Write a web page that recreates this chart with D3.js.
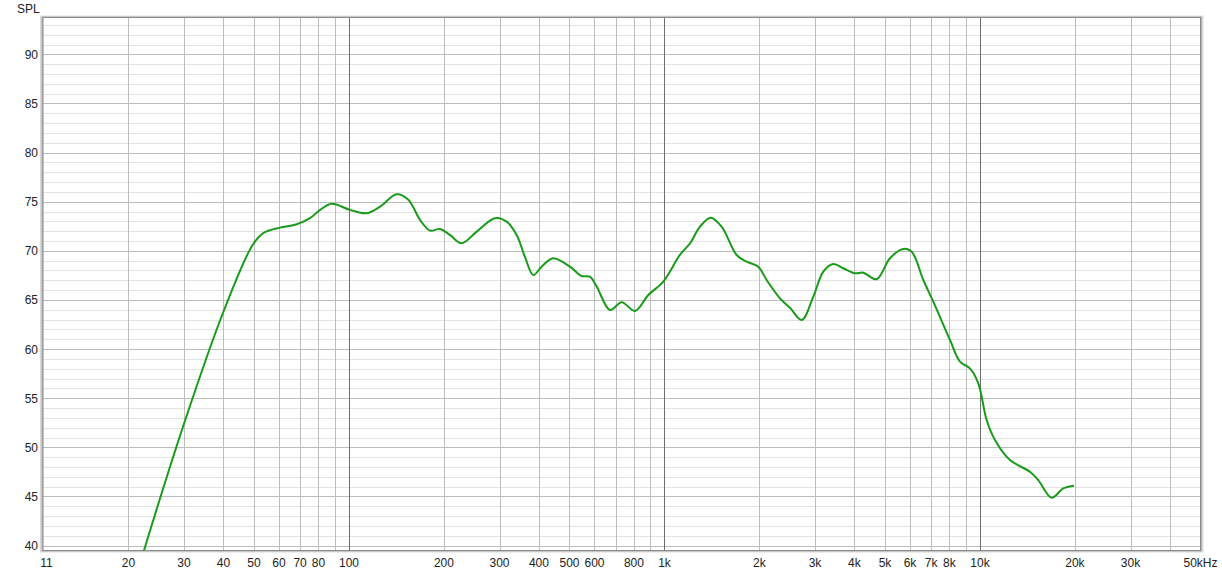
<!DOCTYPE html>
<html lang="en">
<head>
<meta charset="UTF-8">
<title>SPL</title>
<script src="https://cdn.jsdelivr.net/npm/d3@7"></script>
<style>
  body { margin: 0; background: #fff; }
  text { font-family: "Liberation Sans", Arial, sans-serif; font-size: 12px; fill: #222; }
</style>
</head>
<body>
<svg id="chart" width="1222" height="575"></svg>
<script>
// frequency response (Hz, dB SPL)
var freqs = [20.5, 22.4, 30, 40, 49.5, 53.5, 60.4, 68.3, 75.2, 81, 88.2, 100.7, 113.8, 125.4, 141.6, 154.2, 168, 180.7,
  194.3, 208.9, 227.5, 254, 290.2, 316, 340, 361, 383.9, 408, 444, 501.7, 546, 580, 610, 672, 732, 806, 888.6, 991.5,
  1119, 1205, 1296, 1401, 1518, 1693, 1822, 1983, 2108, 2323, 2499, 2722, 2963, 3187, 3428, 3687, 4016, 4268, 4704,
  5184, 5715, 6074, 6612, 7112, 8035, 8643, 9293, 9879, 10500, 11157, 12445, 14400, 15300, 16870, 18360, 19860];
var spl = [35.3, 39.5, 52.4, 63.8, 70.6, 71.8, 72.36, 72.7, 73.32, 74.17, 74.8, 74.17, 73.83, 74.5, 75.76, 75.2, 73.15, 72.06,
  72.23, 71.62, 70.77, 71.96, 73.32, 72.97, 71.62, 69.41, 67.54, 68.39, 69.25, 68.39, 67.44, 67.37, 66.35, 63.98, 64.77, 63.88, 65.51, 66.86,
  69.58, 70.77, 72.46, 73.38, 72.46, 69.58, 68.9, 68.39, 67.03, 65.17, 64.2, 62.96, 65.34, 67.88, 68.67, 68.23, 67.72, 67.78, 67.11,
  69.25, 70.19, 69.92, 67.03, 64.83, 60.93, 58.72, 58.04, 56.52, 52.78, 50.74, 48.7, 47.52, 46.67, 44.87, 45.82, 46.1];

var xTickVals = [11, 20, 30, 40, 50, 60, 70, 80, 100, 200, 300, 400, 500, 600, 800, 1000, 2000, 3000, 4000, 5000, 6000, 7000, 8000, 10000, 20000, 30000, 50000];
var xTickText = ["11", "20", "30", "40", "50", "60", "70", "80", "100", "200", "300", "400", "500", "600", "800", "1k", "2k", "3k", "4k", "5k", "6k", "7k", "8k", "10k", "20k", "30k", "50kHz"];
var xGrid = [20, 30, 40, 50, 60, 70, 80, 90, 200, 300, 400, 500, 600, 700, 800, 900, 2000, 3000, 4000, 5000, 6000, 7000, 8000, 9000, 20000, 30000, 40000];
var decades = [100, 1000, 10000];
var yTicks = [40, 45, 50, 55, 60, 65, 70, 75, 80, 85, 90];

var svg = d3.select("#chart");
var pL = 43, pR = 1200.5, pT = 17.5, pB = 550.5;

var x = d3.scaleLog().domain([10.72, 50000]).range([pL, pR]);
var y = d3.scaleLinear().domain([39.5, 93.75]).range([pB, pT]);

// shadow of the frame
svg.append("rect").attr("x", pL - 3).attr("y", pT - 2).attr("width", pR - pL + 6).attr("height", pB - pT + 4)
  .attr("fill", "#dadada");
svg.append("rect").attr("x", pL - 1.5).attr("y", pT - 1).attr("width", pR - pL + 3).attr("height", pB - pT + 2)
  .attr("fill", "#b4b4b4");
svg.append("rect").attr("x", pL).attr("y", pT).attr("width", pR - pL).attr("height", pB - pT).attr("fill", "#fff");

var grid = svg.append("g");
// minor dB lines
d3.range(40, 94).forEach(function(v) {
  if (v % 5 === 0) return;
  grid.append("line").attr("x1", pL).attr("x2", pR).attr("y1", Math.round(y(v)) + 0.5).attr("y2", Math.round(y(v)) + 0.5)
    .attr("stroke", "#e2e2e2");
});
yTicks.forEach(function(v) {
  grid.append("line").attr("x1", pL).attr("x2", pR).attr("y1", Math.round(y(v)) + 0.5).attr("y2", Math.round(y(v)) + 0.5)
    .attr("stroke", "#bdbdbd");
});
xGrid.forEach(function(f) {
  grid.append("line").attr("x1", Math.round(x(f)) + 0.5).attr("x2", Math.round(x(f)) + 0.5).attr("y1", pT).attr("y2", pB)
    .attr("stroke", "#bdbdbd");
});
decades.forEach(function(f) {
  grid.append("line").attr("x1", Math.round(x(f)) + 0.5).attr("x2", Math.round(x(f)) + 0.5).attr("y1", pT).attr("y2", pB)
    .attr("stroke", "#6e6e6e");
});

// frame
svg.append("rect").attr("x", pL).attr("y", pT).attr("width", pR - pL).attr("height", pB - pT)
  .attr("fill", "none").attr("stroke", "#8a8a8a").attr("stroke-width", 1);

svg.append("clipPath").attr("id", "clip").append("rect")
  .attr("x", pL).attr("y", pT).attr("width", pR - pL).attr("height", pB - pT);

var pts = freqs.map(function(f, i) { return [f, spl[i]]; });
var line = d3.line().x(function(d) { return x(d[0]); }).y(function(d) { return y(d[1]); }).curve(d3.curveCatmullRom.alpha(0.5));
svg.append("path").datum(pts).attr("clip-path", "url(#clip)").attr("d", line)
  .attr("fill", "none").attr("stroke", "#1a9a1a").attr("stroke-width", 2);

// y labels
svg.selectAll(".yl").data(yTicks).enter().append("text")
  .attr("x", 38).attr("y", function(d) { return y(d) + 4.5; }).attr("text-anchor", "end").text(function(d) { return d; });
svg.append("text").attr("x", 17).attr("y", 13).text("SPL");

// x labels
svg.selectAll(".xl").data(xTickVals).enter().append("text")
  .attr("x", function(d) { return x(d); }).attr("y", 567).attr("text-anchor", "middle")
  .text(function(d, i) { return xTickText[i]; });
</script>
</body>
</html>
